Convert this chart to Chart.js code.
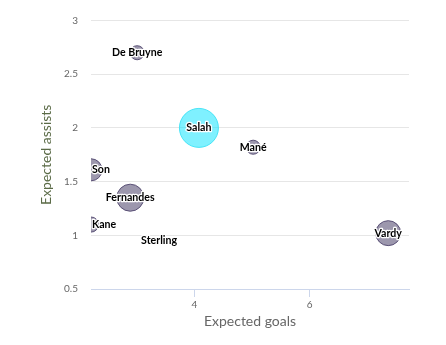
<!doctype html>
<html lang="en">
  <head>
    <meta charset="utf-8">
    <title>Expected goals vs expected assists</title>
    <script src="https://cdn.jsdelivr.net/npm/chart.js@4.4.1/dist/chart.umd.min.js"></script>
    <style>
      html, body {
        margin: 0;
        padding: 0;
        background: #ffffff;
      }
      #wrap {
        width: 446px;
        height: 345px;
        position: relative;
      }
    </style>
  </head>
  <body>
    <div id="wrap">
      <canvas id="myChart"></canvas>
    </div>
    <script>
      // data
      const players = ['De Bruyne', 'Salah', 'Mané', 'Son', 'Fernandes', 'Kane', 'Sterling', 'Vardy'];
      const xG = [3.01, 4.08, 5.02, 2.21, 2.89, 2.21, 3.39, 7.36];
      const xA = [2.70, 2.00, 1.82, 1.61, 1.35, 1.10, 0.95, 1.02];
      const bubbleZ = [1.3, 10, 1.3, 3.2, 4.8, 1.5, 0, 4.1];
      const highlighted = ['Salah'];
      const xTicks = [4, 6];
      const yTicks = [0.5, 1, 1.5, 2, 2.5, 3];

      const maxRadius = 19.5;
      const zMax = Math.max(...bubbleZ);
      const radius = z => z > 0 ? maxRadius * Math.sqrt(z / zMax) : 0;

      const points = players.map((name, i) => ({ x: xG[i], y: xA[i], r: radius(bubbleZ[i]), name: name }));

      const fontFamily = 'Lato, "Open Sans", sans-serif';

      // name on every bubble, black with white outline, kept inside the plot
      const bubbleLabels = {
        id: 'bubbleLabels',
        afterDatasetsDraw(chart) {
          const ctx = chart.ctx;
          const area = chart.chartArea;
          const meta = chart.getDatasetMeta(0);
          ctx.save();
          ctx.font = 'bold 10.6px ' + fontFamily;
          ctx.textAlign = 'center';
          ctx.textBaseline = 'middle';
          ctx.lineJoin = 'round';
          meta.data.forEach((el, i) => {
            const text = points[i].name;
            const w = ctx.measureText(text).width;
            let x = el.x;
            if (x - w / 2 < area.left + 1) x = area.left + 1 + w / 2;
            if (x + w / 2 > area.right - 1) x = area.right - 1 - w / 2;
            ctx.strokeStyle = '#ffffff';
            ctx.lineWidth = 2.5;
            ctx.strokeText(text, x, el.y);
            ctx.fillStyle = '#000000';
            ctx.fillText(text, x, el.y);
          });
          ctx.restore();
        }
      };

      const ctx = document.getElementById('myChart').getContext('2d');
      const myChart = new Chart(ctx, {
        type: 'bubble',
        data: {
          datasets: [{
            data: points,
            clip: 0,
            backgroundColor: points.map(p => highlighted.includes(p.name) ? 'rgba(0, 228, 255, 0.5)' : 'rgba(58, 48, 92, 0.5)'),
            borderColor: points.map(p => highlighted.includes(p.name) ? 'rgba(60, 226, 245, 0.9)' : 'rgba(80, 70, 110, 0.9)'),
            borderWidth: 1
          }]
        },
        options: {
          responsive: true,
          maintainAspectRatio: false,
          animation: false,
          events: [],
          layout: {
            padding: { left: 38, top: 18, right: 37, bottom: 15 }
          },
          plugins: {
            legend: { display: false },
            tooltip: { enabled: false }
          },
          scales: {
            x: {
              type: 'linear',
              min: 2.21,
              max: 7.72,
              afterBuildTicks: axis => { axis.ticks = xTicks.map(v => ({ value: v })); },
              afterFit: axis => { axis.height = 41; },
              grid: {
                drawOnChartArea: false,
                drawTicks: true,
                tickLength: 8,
                color: '#ccd6eb'
              },
              border: { display: true, color: '#ccd6eb' },
              ticks: {
                padding: 2,
                color: '#666666',
                font: { family: fontFamily, size: 10 }
              },
              title: {
                display: true,
                text: 'Expected goals',
                color: '#666666',
                padding: 0,
                font: { family: fontFamily, size: 14 }
              }
            },
            y: {
              type: 'linear',
              min: 0.5,
              max: 3,
              afterBuildTicks: axis => { axis.ticks = yTicks.map(v => ({ value: v })); },
              afterFit: axis => { axis.width = 53; },
              grid: {
                drawTicks: false,
                color: '#e6e6e6'
              },
              border: { display: false },
              ticks: {
                padding: 13,
                color: '#666666',
                font: { family: fontFamily, size: 10 },
                callback: value => String(value)
              },
              title: {
                display: true,
                text: 'Expected assists',
                color: '#5b6b47',
                padding: 0,
                font: { family: fontFamily, size: 14 }
              }
            }
          }
        },
        plugins: [bubbleLabels]
      });
    </script>
  </body>
</html>
